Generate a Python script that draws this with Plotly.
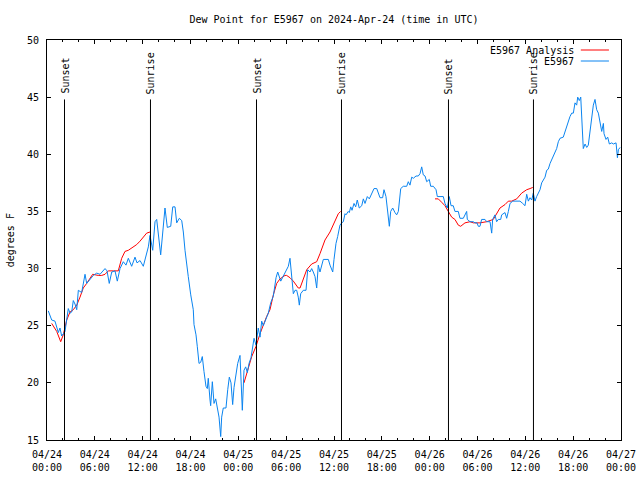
import pandas as pd
import plotly.graph_objects as go

START = pd.Timestamp("2024-04-24 00:00")

# E5967 observations: hours since start, dew point (F)
obs_hours = [0.16, 0.59, 1.0, 1.42, 1.63, 1.84, 2.26, 2.47, 2.67, 2.89, 3.10, 3.30, 3.51, 3.73, 3.93,
             4.35, 4.77, 4.98, 5.39, 5.81, 6.23, 6.65, 7.28, 7.53, 7.81, 8.12, 8.53, 8.82, 9.16, 9.57,
             9.91, 10.2, 10.62, 11.04, 11.29, 11.67, 12.08, 12.42, 12.71, 12.92, 13.26, 13.55, 13.76,
             14.26, 14.8, 15.09, 15.52, 15.77, 16.06, 16.27, 16.6, 16.9, 17.1, 17.31, 17.52, 17.72,
             18.03, 18.35, 18.44, 18.69, 18.85, 19.07, 19.28, 19.48, 19.69, 19.94, 20.11, 20.23, 20.45,
             20.53, 20.74, 20.95, 21.16, 21.36, 21.58, 21.79, 21.91, 22.11, 22.45, 22.67, 22.87, 23.08,
             23.29, 23.46, 23.67, 23.92, 24.21, 24.33, 24.5, 24.71, 24.92, 25.13, 25.34, 25.59, 25.8,
             25.97, 26.22, 26.5, 26.72, 26.93, 27.13, 27.47, 27.76, 28.06, 28.39, 28.73, 28.94, 29.32,
             29.52, 29.85, 30.06, 30.27, 30.48, 30.69, 30.9, 31.11, 31.32, 31.52, 31.65, 31.82, 32.15,
             32.49, 32.7, 32.99, 33.2, 33.4, 33.62, 33.83, 34.03, 34.24, 34.46, 34.66, 35.0, 35.29,
             35.5, 35.84, 36.0, 36.25, 36.46, 36.75, 36.97, 37.17, 37.38, 37.5, 37.79, 37.92, 38.1,
             38.26, 38.51, 38.72, 38.92, 39.17, 39.48, 39.68, 39.89, 40.18, 40.43, 40.73, 41.02, 41.36,
             41.56, 41.77, 42.1, 42.27, 42.52, 42.69, 42.86, 42.94, 43.11, 43.36, 43.65, 43.86, 44.07,
             44.19, 44.37, 44.69, 45.12, 45.32, 45.53, 45.75, 45.95, 46.29, 46.57, 46.79, 47.0, 47.2,
             47.42, 47.63, 47.95, 48.13, 48.46, 48.8, 48.96, 49.3, 49.71, 49.92, 50.21, 50.46, 50.68,
             50.96, 51.17, 51.59, 51.8, 52.22, 52.64, 52.72, 53.06, 53.48, 53.69, 53.94, 54.1, 54.31,
             54.52, 54.94, 55.15, 55.57, 55.78, 55.9, 56.19, 56.4, 56.61, 56.91, 57.03, 57.45, 57.66,
             57.87, 58.08, 58.42, 58.83, 59.33, 59.67, 59.96, 60.17, 60.38, 60.59, 60.8, 61.0, 61.21,
             61.42, 61.63, 61.84, 62.05, 62.26, 62.47, 62.68, 62.88, 63.1, 63.31, 63.51, 63.72, 63.93,
             64.14, 64.35, 64.76, 64.98, 65.19, 65.39, 65.6, 65.82, 66.02, 66.23, 66.44, 66.57, 66.77,
             66.95, 67.07, 67.2, 67.27, 67.49, 67.7, 67.9, 68.11, 68.33, 68.53, 68.74, 68.95, 69.16,
             69.37, 69.58, 69.79, 69.87, 70.12, 70.33, 70.54, 70.84, 71.04, 71.38, 71.55, 71.67, 71.89]
obs_values = [26.3, 25.5, 25.4, 24.4, 24.8, 24.1, 24.5, 25.8, 26.5, 26.1, 26.2, 27.2, 26.9, 26.4, 28.1,
              27.9, 29.5, 28.7, 29.0, 29.4, 29.6, 29.5, 30.0, 29.8, 28.7, 29.7, 29.8, 28.9, 30.0, 30.6,
              30.3, 30.9, 30.2, 31.0, 30.5, 30.7, 30.2, 31.0, 31.9, 32.9, 31.6, 34.1, 34.3,
              31.2, 35.3, 33.6, 33.7, 35.4, 35.4, 34.0, 34.4, 34.2, 33.2, 31.6, 30.2, 29.3,
              27.7, 26.4, 25.1, 24.2, 23.2, 21.7, 21.8, 22.3, 21.0, 19.7, 19.5, 20.4, 18.5,
              18.0, 20.1, 18.2, 18.6, 17.8, 17.0, 15.3, 17.0, 17.8, 17.8, 19.4, 20.5, 20.0,
              18.1, 19.6, 20.7, 21.7, 22.4, 20.0, 17.6, 21.1, 21.4, 20.9, 21.7, 22.2, 23.3,
              23.9, 23.3, 24.8, 24.0, 25.4, 25.0, 25.6, 26.1, 27.0, 27.6, 29.2, 29.7, 28.9,
              29.2, 29.6, 29.9, 30.2, 30.9, 29.6, 27.8, 28.1, 28.1, 27.5, 26.8, 27.8, 28.1,
              28.1, 29.9, 29.7, 30.0, 29.7, 29.3, 28.3, 30.3, 29.7, 30.3, 30.8, 30.8, 30.8,
              30.3, 29.7, 30.8, 32.2, 32.8, 33.8, 34.0, 34.1, 34.8, 34.7, 35.0, 34.9, 35.4,
              35.1, 35.7, 35.4, 36.0, 35.3, 35.5, 36.1, 35.7, 36.3, 36.1, 36.6, 37.0, 37.0,
              36.6, 36.2, 36.2, 36.9, 36.3, 35.3, 34.4, 33.7, 35.0, 35.3, 34.9, 34.7, 35.0,
              35.9, 37.0, 37.2, 37.2, 37.6, 37.3, 38.0, 37.9, 38.1, 38.1, 38.3, 38.9, 38.2,
              38.1, 37.6, 37.8, 37.2, 37.2, 36.9, 36.3, 36.3, 36.3, 35.7, 35.3, 36.3, 35.5,
              35.5, 35.0, 35.0, 34.4, 34.4, 35.0, 34.3, 34.1, 34.1, 34.0, 34.0, 33.7, 33.7,
              34.3, 34.3, 34.1, 34.1, 33.1, 34.3, 34.7, 34.1, 34.3, 34.3, 34.7, 34.9, 34.4,
              35.0, 35.7, 35.9, 35.9, 35.9, 35.7, 35.5, 36.5, 35.9, 36.2, 36.0, 36.6, 35.9,
              36.3, 36.6, 36.9, 37.5, 37.8, 38.0, 38.6, 38.7, 39.2, 39.5, 39.8, 40.2, 40.5,
              41.1, 41.4, 41.5, 42.0, 42.4, 42.9, 43.3, 43.6, 43.6, 44.5, 44.3, 45.0, 44.7,
              45.0, 43.6, 41.8, 40.5, 40.9, 40.6, 40.8, 42.1, 43.6, 44.3, 44.8, 43.9, 43.6,
              42.7, 42.0, 42.7, 41.8, 41.3, 41.5, 40.9, 41.0, 40.9, 41.0, 39.7, 40.4, 40.6]

# E5967 Analysis: three overnight segments (None separates segments)
ana_hours = [0.59, 1.22, 1.72, 2.04, 2.47, 2.89, 3.3, 3.73, 4.14, 4.55, 4.98, 5.39, 5.73, 6.43, 6.86,
             7.28, 7.69, 8.32, 8.94, 9.37, 9.78, 10.2, 10.83, 11.25, 11.67, 12.08, 12.5, 12.92, None,
             24.71, 25.68, 26.22, 26.72, 27.55, 27.97, 28.39, 28.81, 29.23, 29.44, 29.85, 30.06, 30.48,
             30.9, 31.52, 31.74, 32.15, 32.58, 33.2, 33.83, 34.24, 34.87, 35.5, 36.13, 36.54, 36.84, None,
             48.67, 49.08, 49.51, 49.92, 50.34, 50.76, 51.17, 51.59, 51.89, 52.43, 53.06, 53.48, 54.31,
             55.15, 55.98, 56.4, 56.82, 57.45, 57.87, 58.29, 58.92, 59.54, 60.17, 60.59, 60.93]
ana_values = [25.2, 24.5, 23.6, 24.2, 25.5, 26.2, 26.4, 26.8, 27.5, 28.3, 28.7, 29.2, 29.5, 29.4, 29.4,
              29.5, 29.8, 29.8, 29.8, 30.9, 31.5, 31.6, 31.9, 32.1, 32.4, 32.7, 33.1, 33.2, None,
              20.0, 22.3, 23.2, 24.3, 25.8, 26.4, 27.7, 28.7, 29.1, 29.2, 29.4, 29.4, 29.2,
              28.9, 28.3, 28.3, 29.0, 29.9, 30.4, 30.6, 31.3, 32.5, 33.2, 34.1, 34.8, 35.0, None,
              36.1, 36.1, 35.8, 35.5, 35.0, 34.5, 34.3, 33.8, 33.7, 34.0, 34.1, 34.0, 34.0,
              34.1, 34.3, 34.8, 35.3, 35.6, 35.9, 35.9, 36.1, 36.6, 36.9, 37.0, 37.1]

# Sun events (hours since start)
event_hours = [2.195, 12.98, 26.28, 36.94, 50.36, 61.02]
event_labels = ["Sunset", "Sunrise", "Sunset", "Sunrise", "Sunset", "Sunrise"]

FONT = "DejaVu Sans Mono"
BLUE = "#0a84f0"
RED = "#ff0000"


def to_time(h):
    return None if h is None else START + pd.Timedelta(hours=h)


fig = go.Figure()
fig.add_trace(go.Scatter(x=[to_time(h) for h in ana_hours], y=ana_values, mode="lines",
                         line=dict(color=RED, width=1), name="E5967 Analysis",
                         connectgaps=False, showlegend=False))
fig.add_trace(go.Scatter(x=[to_time(h) for h in obs_hours], y=obs_values, mode="lines",
                         line=dict(color=BLUE, width=1), name="E5967", showlegend=False))

shapes = []
annotations = []
for h, lab in zip(event_hours, event_labels):
    t = to_time(h)
    shapes.append(dict(type="line", xref="x", yref="y", x0=t, x1=t, y0=15, y1=44.8,
                       line=dict(color="black", width=1)))
    annotations.append(dict(x=t, y=45.1, xref="x", yref="y", text=lab, showarrow=False,
                            textangle=-90, xanchor="center", yanchor="bottom",
                            font=dict(family=FONT, size=10, color="black")))

# legend (gnuplot style: text right-aligned, sample line on right)
leg = [("E5967 Analysis", RED, 0.975), ("E5967", BLUE, 0.9475)]
for text, col, yp in leg:
    annotations.append(dict(x=0.922, y=yp, xref="paper", yref="paper", text=text, showarrow=False,
                            xanchor="right", yanchor="middle",
                            font=dict(family=FONT, size=10, color="black")))
    shapes.append(dict(type="line", xref="paper", yref="paper", x0=0.93, x1=0.979, y0=yp, y1=yp,
                       line=dict(color=col, width=1)))

annotations.append(dict(x=-0.064, y=0.5, xref="paper", yref="paper", text="degrees F",
                        showarrow=False, textangle=-90, xanchor="center", yanchor="middle",
                        font=dict(family=FONT, size=10, color="black")))

fig.update_layout(
    width=640, height=480,
    margin=dict(l=47, r=19, t=40, b=40, autoexpand=False),
    paper_bgcolor="white", plot_bgcolor="white",
    font=dict(family=FONT, size=10, color="black"),
    title=dict(text="Dew Point for E5967 on 2024-Apr-24 (time in UTC)", x=0.5, xref="paper",
               y=1 - 19 / 480, yref="container", xanchor="center", yanchor="middle",
               font=dict(family=FONT, size=10, color="black")),
    shapes=shapes, annotations=annotations, showlegend=False,
)
fig.update_xaxes(
    type="date", range=[START, START + pd.Timedelta(hours=72)], automargin=False,
    tickformat="%m/%d<br>%H:%M", dtick=6 * 3600 * 1000, tick0=START,
    ticks="inside", ticklen=4, tickcolor="black", showgrid=False, zeroline=False,
    showline=True, linecolor="black", linewidth=1, mirror="ticks", ticklabelstandoff=5,
    minor=dict(dtick=2 * 3600 * 1000, ticks="inside", ticklen=2, tickcolor="black", showgrid=False),
    tickfont=dict(family=FONT, size=10, color="black"),
)
fig.update_yaxes(
    range=[15, 50], dtick=5, ticks="inside", ticklen=4, tickcolor="black", automargin=False,
    showgrid=False, zeroline=False, showline=True, linecolor="black", linewidth=1, mirror="ticks",
    ticklabelstandoff=5,
    tickfont=dict(family=FONT, size=10, color="black"),
)

fig.write_html("out.html", config={"displayModeBar": False},
               post_script="document.body.style.margin='0';document.body.style.overflow='hidden';")
